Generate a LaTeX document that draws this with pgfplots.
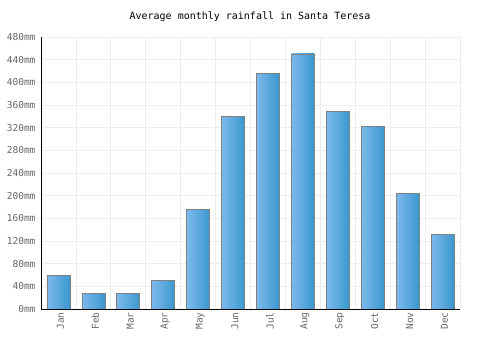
\documentclass[border=0pt]{standalone}
\usepackage{pgfplots}
\pgfplotsset{compat=1.18}
\usepackage{fontspec}
\setmainfont{DejaVu Sans Mono}
\begin{document}
\begin{tikzpicture}[x=1pt,y=1pt]
\path[use as bounding box] (0,0) rectangle (500,350);
\node[font=\fontsize{10}{12}\selectfont, text=black] at (250,333) {Average monthly rainfall in Santa Teresa};
\begin{axis}[
  at={(41pt,41pt)}, anchor=south west,
  scale only axis, width=419pt, height=272pt,
  xmin=-0.5, xmax=11.5, ymin=0, ymax=480,
  ytick={0,40,...,480},
  yticklabel={\pgfmathprintnumber{\tick}mm},
  /pgf/number format/assume math mode=true,
  xtick={0,...,11},
  xticklabels={Jan,Feb,Mar,Apr,May,Jun,Jul,Aug,Sep,Oct,Nov,Dec},
  minor xtick={-0.5,0.5,...,11.5},
  xminorgrids=true, ymajorgrids=true, xmajorgrids=false,
  grid style={draw=black!7, line width=0.8pt},
  minor grid style={draw=black!7, line width=0.8pt},
  axis x line*=bottom, axis y line*=left,
  axis line style={black, -, line width=0.8pt},
  major tick length=0pt, minor tick length=0pt,
  ticklabel style={font=\fontsize{9.5}{11}\selectfont, text=black!60},
  x tick label style={rotate=90, anchor=east},
  yticklabel style={xshift=-2pt},
  xticklabel style={yshift=-2pt},
  rain/.style={ybar, bar shift=0pt, bar width=23pt, draw=black!50, line width=0.7pt,
    left color={rgb,255:red,125;green,185;blue,235}, right color={rgb,255:red,58;green,152;blue,208}},
]
\addplot[rain] coordinates {(0,59)};
\addplot[rain] coordinates {(1,28)};
\addplot[rain] coordinates {(2,28)};
\addplot[rain] coordinates {(3,50)};
\addplot[rain] coordinates {(4,176)};
\addplot[rain] coordinates {(5,340)};
\addplot[rain] coordinates {(6,416)};
\addplot[rain] coordinates {(7,450)};
\addplot[rain] coordinates {(8,349)};
\addplot[rain] coordinates {(9,322)};
\addplot[rain] coordinates {(10,204)};
\addplot[rain] coordinates {(11,131)};
\end{axis}
\end{tikzpicture}
\end{document}
